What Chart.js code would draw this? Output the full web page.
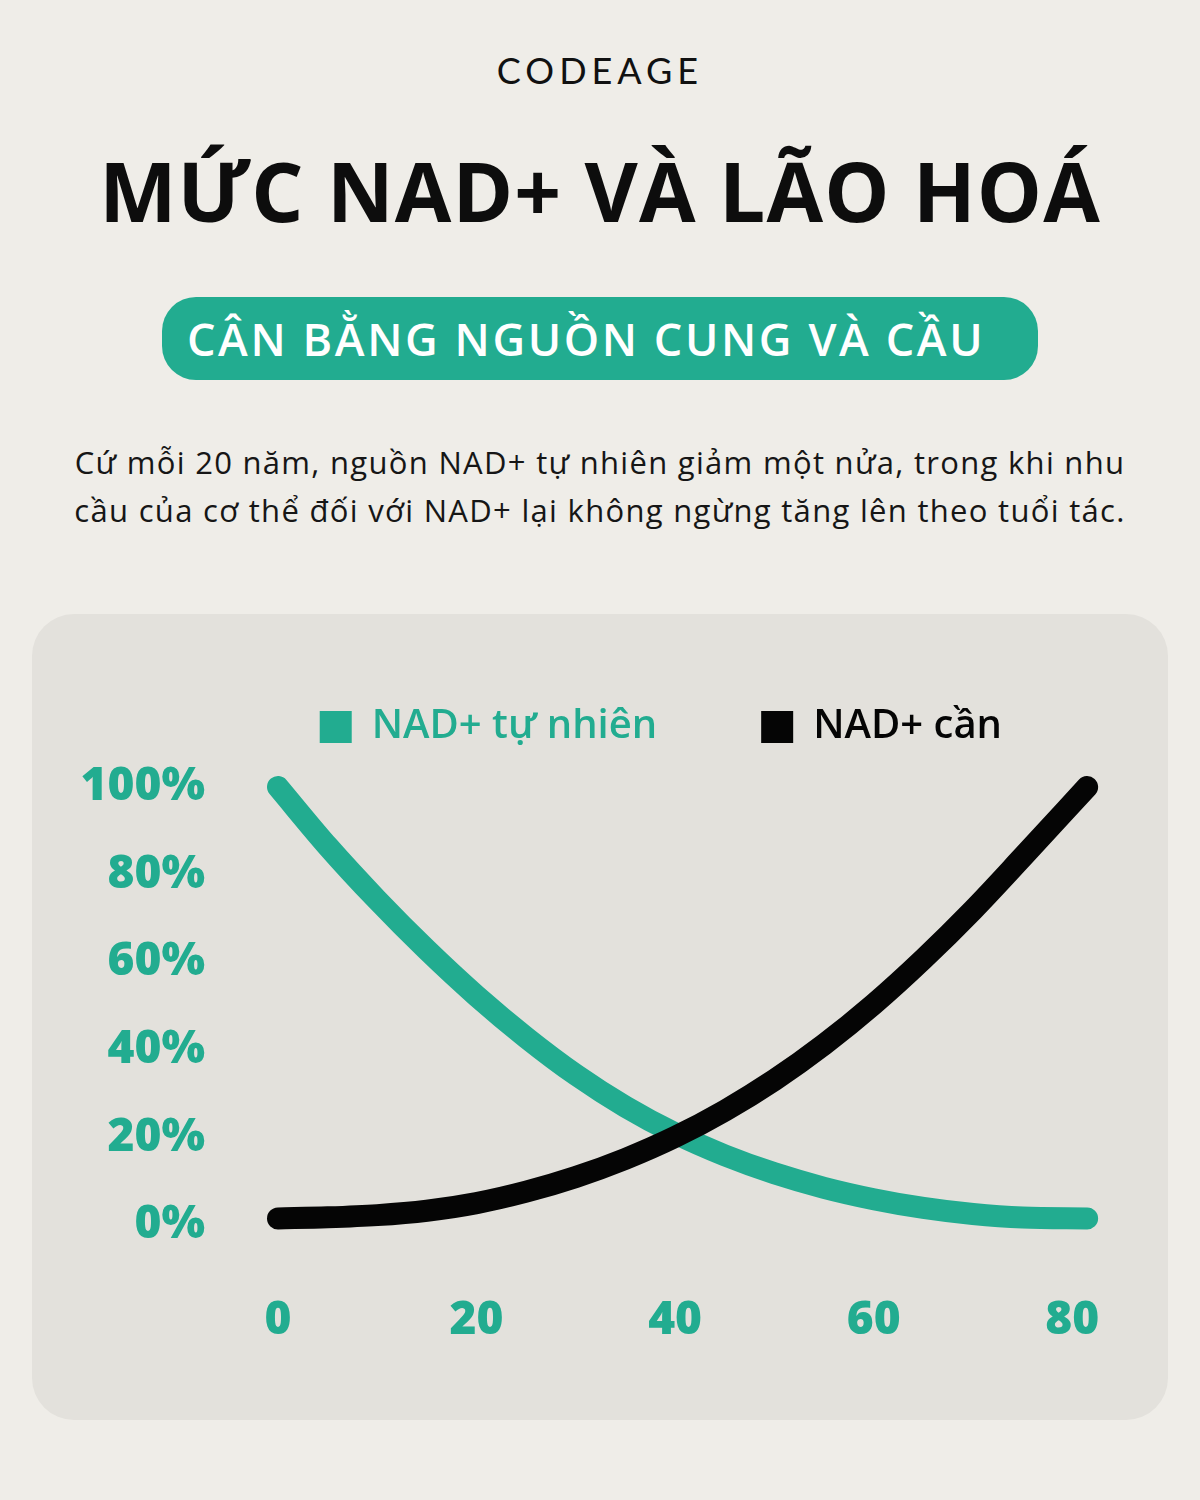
<!DOCTYPE html>
<html>
<head>
<meta charset="utf-8">
<script src="https://cdn.jsdelivr.net/npm/chart.js@4.4.1/dist/chart.umd.min.js"></script>
<style>
  body {
    margin: 0;
    width: 1200px;
    height: 1500px;
    background: #efede8;
    font-family: "Open Sans", sans-serif;
    position: relative;
    overflow: hidden;
  }
  #brand {
    position: absolute; left: 0; top: 48px; width: 1200px;
    text-align: center; font-family: "Lato", sans-serif; font-weight: 400;
    font-size: 36px; letter-spacing: 5px; color: #111; line-height: 44px;
  }
  #title {
    position: absolute; left: 0; top: 149px; width: 1200px;
    text-align: center; font-weight: 700; font-size: 82px; line-height: 82px; color: #0d0d0d;
    letter-spacing: 1.1px;
  }
  #pill {
    position: absolute; left: 162px; top: 297px; width: 876px; height: 83px;
    border-radius: 34px; background: #22ac90; color: #fff;
    display: flex; align-items: center; box-sizing: border-box; padding-left: 25px;
    font-weight: 600; font-size: 45px; letter-spacing: 2.6px;
  }
  #intro {
    position: absolute; left: 0; top: 438px; width: 1200px;
    text-align: center; font-size: 31px; line-height: 48px; color: #161616; letter-spacing: 1.3px;
  }
  #panel {
    position: absolute; left: 32px; top: 614px; width: 1136px; height: 806px;
    border-radius: 42px; background: #e3e1dc;
  }
  #chartDiv { position: absolute; left: 40px; top: 603px; }
</style>
</head>
<body>
<div id="brand">CODEAGE</div>
<div id="title">MỨC NAD+ VÀ LÃO HOÁ</div>
<div id="pill"><span>CÂN BẰNG NGUỒN CUNG VÀ CẦU</span></div>
<div id="intro">Cứ mỗi 20 năm, nguồn NAD+ tự nhiên giảm một nửa, trong khi nhu<br>cầu của cơ thể đối với NAD+ lại không ngừng tăng lên theo tuổi tác.</div>
<div id="panel"></div>
<div id="chartDiv"><canvas id="nadChart" width="1160" height="817"></canvas></div>

<script>
// ---------- DATA
var ages       = [0, 5, 10, 15, 20, 25, 30, 35, 40, 45, 50, 55, 60, 65, 70, 75, 81.5];
var nadNatural = [100, 86.5, 74.2, 62.8, 52.3, 42.8, 34.3, 27.0, 20.9, 15.9, 11.8, 8.5, 5.9, 3.9, 2.5, 1.7, 1.5];
var nadNeeded  = [1.5, 1.75, 2.25, 3.25, 5.0, 7.6, 10.95, 15.1, 20.1, 26.1, 33.1, 41.2, 50.4, 60.7, 71.9, 84.0, 100];
var ageTicks   = [0, 20, 40, 60, 80];
var pctTicks   = [0, 20, 40, 60, 80, 100];

var label_natural = 'NAD+ tự nhiên';
var label_needed  = 'NAD+ cần';

var GREEN = '#22ac90';
var BLACK = '#050505';

function toPoints(values){
    return ages.map(function(a, i){ return {x: a, y: values[i]}; });
}

function initializeNadChart(){

    var ctx = document.getElementById('nadChart').getContext('2d');
    var myChart = new Chart(ctx, {
        type: 'line',
        data: {
            datasets: [{
                label: label_natural,
                data: toPoints(nadNatural),
                borderColor: GREEN,
                backgroundColor: GREEN,
                borderWidth: 22,
                borderCapStyle: 'round',
                borderJoinStyle: 'round',
                pointRadius: 0,
                cubicInterpolationMode: 'monotone',
                clip: false,
                order: 2
            },
            {
                label: label_needed,
                data: toPoints(nadNeeded),
                borderColor: BLACK,
                backgroundColor: BLACK,
                borderWidth: 22,
                borderCapStyle: 'round',
                borderJoinStyle: 'round',
                pointRadius: 0,
                cubicInterpolationMode: 'monotone',
                clip: false,
                order: 1   // black line sits on top of the green one
            }]
        },
        options: {
            responsive: false,
            animation: false,
            layout: {
                padding: { left: 0, right: 94, top: 0, bottom: 0 }
            },
            plugins: {
                tooltip: { enabled: false },
                legend: {
                    position: 'top',
                    align: 'end',
                    labels: {
                        boxWidth: 32,
                        boxHeight: 32,
                        padding: 104,
                        font: { family: 'Open Sans', size: 40, weight: 600 },
                        sort: function(a, b){ return a.datasetIndex - b.datasetIndex; },
                        generateLabels: function(chart){
                            return chart.data.datasets.map(function(ds, i){
                                return {
                                    text: ds.label,
                                    fillStyle: ds.borderColor,
                                    strokeStyle: ds.borderColor,
                                    fontColor: ds.borderColor,
                                    lineWidth: 0,
                                    hidden: false,
                                    datasetIndex: i
                                };
                            });
                        }
                    }
                }
            },
            scales: {
                x: {
                    type: 'linear',
                    min: 0,
                    max: 83.4,
                    grid: { display: false, drawTicks: false },
                    border: { display: false },
                    afterBuildTicks: function(scale){
                        scale.ticks = ageTicks.map(function(v){ return {value: v}; });
                    },
                    afterFit: function(scale){ scale.height = 195; },
                    ticks: {
                        padding: 68,
                        color: GREEN,
                        autoSkip: false,
                        maxRotation: 0,
                        font: { family: 'Open Sans', size: 46, weight: 800 }
                    }
                },
                y: {
                    min: 0,
                    max: 106.85,
                    grid: { display: false, drawTicks: false },
                    border: { display: false },
                    afterBuildTicks: function(scale){
                        scale.ticks = pctTicks.map(function(v){ return {value: v}; });
                    },
                    afterFit: function(scale){ scale.width = 238; },
                    ticks: {
                        padding: 73,
                        color: GREEN,
                        font: { family: 'Open Sans', size: 46, weight: 800 },
                        callback: function(v){ return v + '%'; }
                    }
                }
            }
        }
    });

    myChart.update();
}

window.addEventListener('load', function(){
    initializeNadChart();
});
</script>
</body>
</html>
